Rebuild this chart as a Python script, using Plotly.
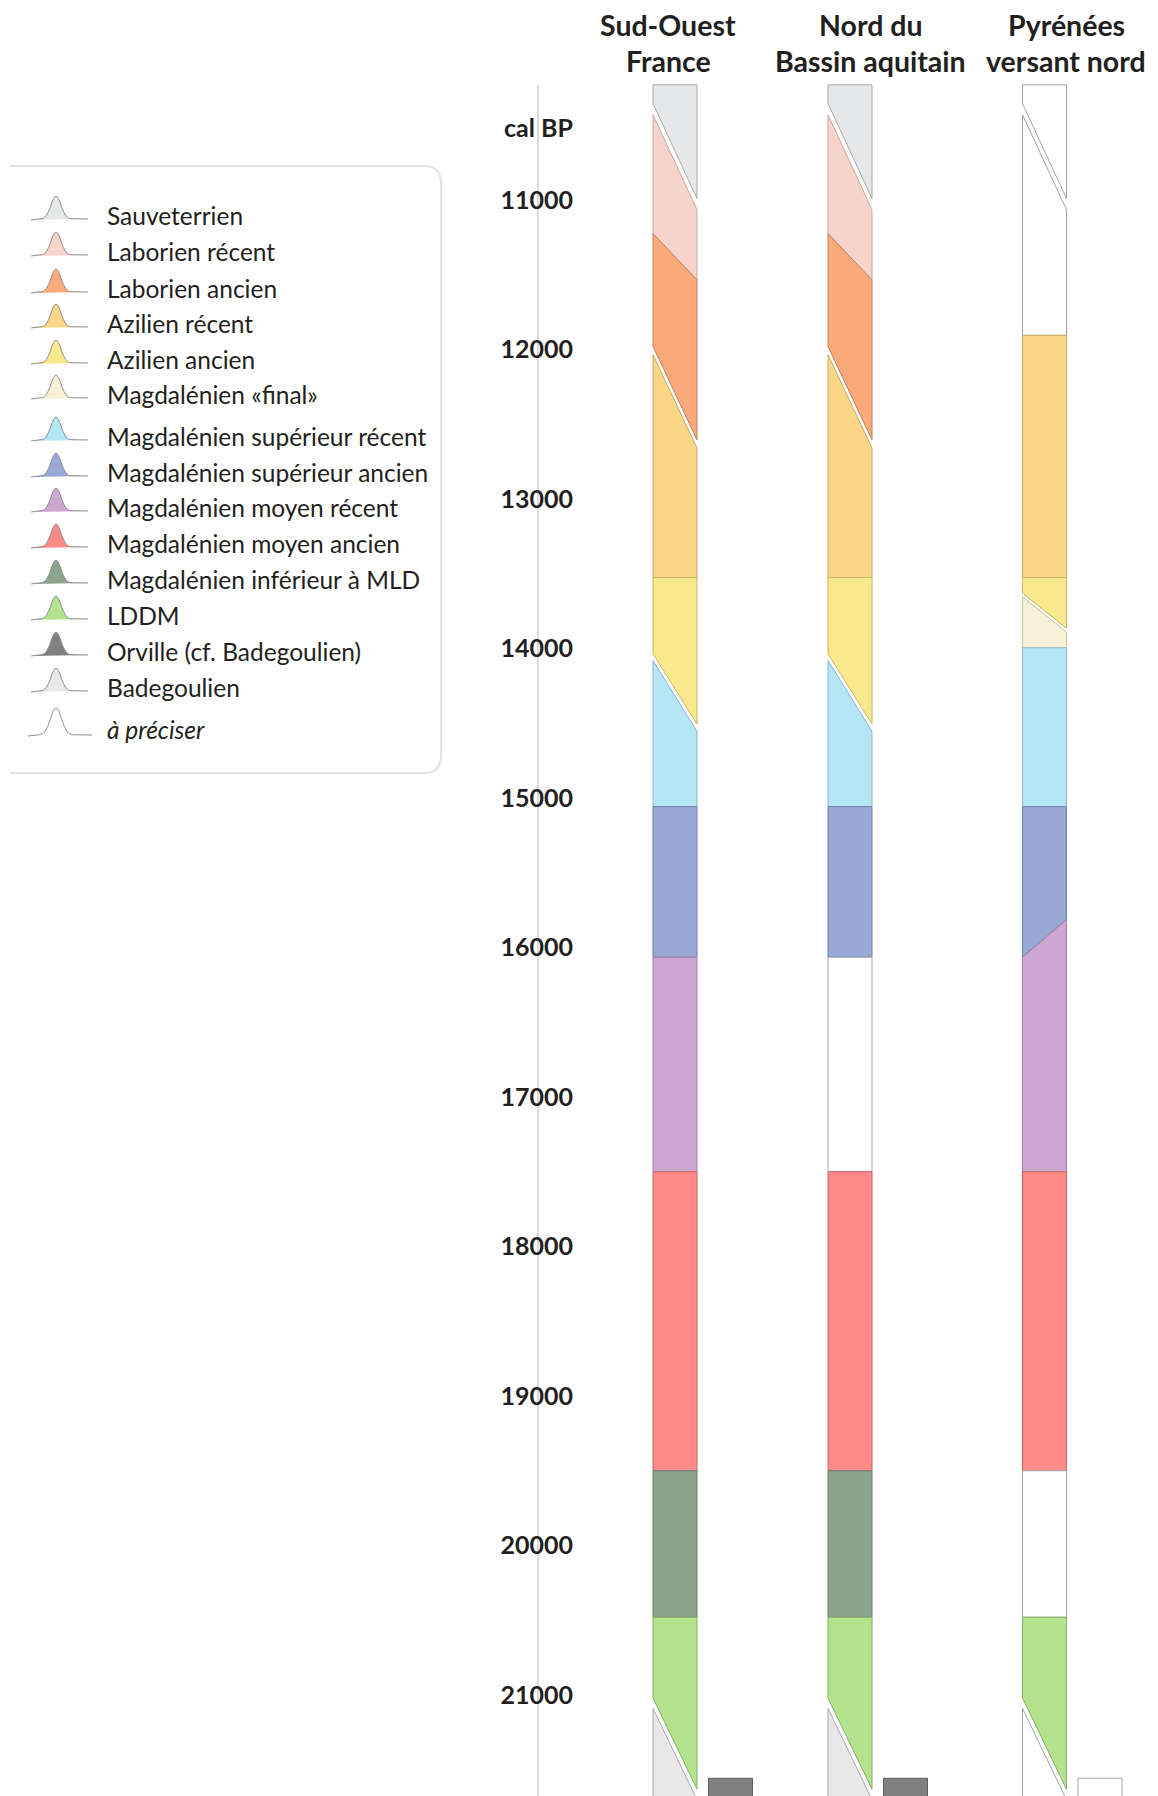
import math
import plotly.graph_objects as go

# regions (columns) and their headers, one list per header line
REGION_LINE1 = ["Sud-Ouest", "Nord du", "Pyrénées"]
REGION_LINE2 = ["France", "Bassin aquitain", "versant nord"]

# culture colours (fill, outline)
CULTURES = [
    "Sauveterrien", "Laborien récent", "Laborien ancien", "Azilien récent",
    "Azilien ancien", "Magdalénien «final»", "Magdalénien supérieur récent",
    "Magdalénien supérieur ancien", "Magdalénien moyen récent",
    "Magdalénien moyen ancien", "Magdalénien inférieur à MLD", "LDDM",
    "Orville (cf. Badegoulien)", "Badegoulien", "à préciser",
]
FILLS = [
    "#E6E7E8", "#F6D3CB", "#F9A97A", "#FCD687", "#F9E98D", "#F8F1D7",
    "#B5E6F6", "#99A8D5", "#CDA6D1", "#FF8A88", "#8CA48E", "#B3E38D",
    "#808080", "#E8E8E8", "#FFFFFF",
]
LINES = [
    "#A9A9A9", "#C9A8A0", "#C0805C", "#C9AA66", "#C6B866", "#C9C2A4",
    "#8FB6C4", "#6F7FAF", "#A07FA6", "#C86464", "#6A7D6C", "#86AE68",
    "#5E5E5E", "#A9A9A9", "#A3A3A3",
]

# Sud-Ouest France: segments, years cal BP at left/right edge of column
SO_CULTURE = ["Sauveterrien", "Laborien récent", "Laborien ancien", "Azilien récent",
              "Azilien ancien", "Magdalénien supérieur récent", "Magdalénien supérieur ancien",
              "Magdalénien moyen récent", "Magdalénien moyen ancien",
              "Magdalénien inférieur à MLD", "LDDM", "Badegoulien"]
SO_TOP_L = [10230, 10430, 11225, 12035, 13525, 14080, 15058, 16065, 17500, 19500, 20480, 21090]
SO_TOP_R = [10230, 11065, 11535, 12660, 13525, 14555, 15058, 16065, 17500, 19500, 20480, 21700]
SO_BOT_L = [10355, 11225, 11980, 13525, 14035, 15058, 16065, 17500, 19500, 20480, 21020, 21900]
SO_BOT_R = [10990, 11535, 12605, 13525, 14505, 15058, 16065, 17500, 19500, 20480, 21630, 21900]

# Nord du Bassin aquitain
NB_CULTURE = ["Sauveterrien", "Laborien récent", "Laborien ancien", "Azilien récent",
              "Azilien ancien", "Magdalénien supérieur récent", "Magdalénien supérieur ancien",
              "à préciser", "Magdalénien moyen ancien",
              "Magdalénien inférieur à MLD", "LDDM", "Badegoulien"]
NB_TOP_L = [10230, 10430, 11225, 12035, 13525, 14080, 15058, 16065, 17500, 19500, 20480, 21090]
NB_TOP_R = [10230, 11065, 11535, 12660, 13525, 14555, 15058, 16065, 17500, 19500, 20480, 21700]
NB_BOT_L = [10355, 11225, 11980, 13525, 14035, 15058, 16065, 17500, 19500, 20480, 21020, 21900]
NB_BOT_R = [10990, 11535, 12605, 13525, 14505, 15058, 16065, 17500, 19500, 20480, 21630, 21900]

# Pyrénées versant nord
PY_CULTURE = ["à préciser", "à préciser", "Azilien récent", "Azilien ancien",
              "Magdalénien «final»", "Magdalénien supérieur récent",
              "Magdalénien supérieur ancien", "Magdalénien moyen récent",
              "Magdalénien moyen ancien", "à préciser", "LDDM", "à préciser"]
PY_TOP_L = [10230, 10430, 11905, 13525, 13655, 13995, 15058, 16065, 17500, 19500, 20480, 21090]
PY_TOP_R = [10230, 11065, 11905, 13525, 13890, 13995, 15058, 15813, 17500, 19500, 20480, 21700]
PY_BOT_L = [10355, 11905, 13525, 13630, 13995, 15058, 16065, 17500, 19500, 20480, 21020, 21900]
PY_BOT_R = [10990, 11905, 13525, 13865, 13995, 15058, 15813, 17500, 19500, 20480, 21630, 21900]

# small boxes under each column
BOX_CULTURE = ["Orville (cf. Badegoulien)", "Orville (cf. Badegoulien)", "à préciser"]
BOX_TOP = [21557, 21557, 21557]
BOX_BOT = [21900, 21900, 21900]

# y axis ticks
TICK_VALS = [10520, 11000, 12000, 13000, 14000, 15000, 16000, 17000, 18000, 19000, 20000, 21000]
TICK_TEXT = ["cal BP", "11000", "12000", "13000", "14000", "15000", "16000",
             "17000", "18000", "19000", "20000", "21000"]

# layout (page pixel units); the page adds an 8px body margin
W, H = 1158, 1796
OFF = 8
PX_PER_YEAR = 0.1495
COL_X = [675, 850, 1044.5]
HEAD_X = [668, 870, 1066]
COL_W = 44
BOX_DX = 55.5
AXIS_X = 538
FONT = "Lato"
INK = "#231F20"

fill_of = dict(zip(CULTURES, FILLS))
line_of = dict(zip(CULTURES, LINES))

fig = go.Figure()

columns = [
    (SO_CULTURE, SO_TOP_L, SO_TOP_R, SO_BOT_L, SO_BOT_R),
    (NB_CULTURE, NB_TOP_L, NB_TOP_R, NB_BOT_L, NB_BOT_R),
    (PY_CULTURE, PY_TOP_L, PY_TOP_R, PY_BOT_L, PY_BOT_R),
]

for cx, (cult, tl, tr, bl, br) in zip(COL_X, columns):
    xl, xr = cx - COL_W / 2, cx + COL_W / 2
    for c, a, b, d, e in zip(cult, tl, tr, bl, br):
        fig.add_trace(go.Scatter(
            x=[xl, xr, xr, xl, xl], y=[a, b, e, d, a],
            mode="lines", fill="toself", fillcolor=fill_of[c],
            line=dict(color=line_of[c], width=1),
            name=c, hoverinfo="name", showlegend=False,
        ))

for cx, c, t, b in zip(COL_X, BOX_CULTURE, BOX_TOP, BOX_BOT):
    xl, xr = cx + BOX_DX - COL_W / 2, cx + BOX_DX + COL_W / 2
    fig.add_trace(go.Scatter(
        x=[xl, xr, xr, xl, xl], y=[t, t, b, b, t],
        mode="lines", fill="toself", fillcolor=fill_of[c],
        line=dict(color=line_of[c], width=1),
        name=c, hoverinfo="name", showlegend=False,
    ))

# time axis line
fig.add_shape(type="line", xref="x", yref="y", x0=AXIS_X, x1=AXIS_X,
              y0=10230, y1=21900, line=dict(color="#DCDCDC", width=2), layer="below")

# invisible trace to set up the pixel overlay axis used by the legend
fig.add_trace(go.Scatter(x=[0], y=[0], xaxis="x", yaxis="y2", mode="markers",
                         marker=dict(opacity=0), hoverinfo="skip", showlegend=False))

# legend box
fig.add_shape(type="path", xref="x", yref="y2",
              path="M 10 166 L 424 166 Q 441 166 441 183 L 441 756 Q 441 773 424 773 L 10 773",
              line=dict(color="#E2E2E2", width=2))

LEG_Y = [215, 251, 288, 323, 359, 394, 436, 472, 507, 543, 579, 615, 651, 687, 729]


def bell(x0, base, h, sig, left, right):
    pts = [(x0 - left, base + 1)]
    n = 24
    for i in range(n + 1):
        dx = -3 * sig + 6 * sig * i / n
        pts.append((x0 + dx, base - h * math.exp(-0.5 * (dx / sig) ** 2)))
    pts.append((x0 + right, base))
    return "M " + " L ".join(f"{px:.1f} {py:.1f}" for px, py in pts)


for lab, yy in zip(CULTURES, LEG_Y):
    big = lab == "à préciser"
    fig.add_shape(type="path", xref="x", yref="y2",
                  path=bell(56, yy + (6 if big else 4), 27 if big else 23, 5.5 if big else 5,
                            28 if big else 25, 36 if big else 32),
                  fillcolor=fill_of[lab], line=dict(color="#8E8E8E", width=1))
    fig.add_annotation(x=105, y=yy, xref="x", yref="y2", xanchor="left", yanchor="middle",
                       text=f"<i>{lab}</i>" if big else lab, showarrow=False,
                       font=dict(family=FONT, size=24.5, color=INK))

# region headers
for cx, l1, l2 in zip(HEAD_X, REGION_LINE1, REGION_LINE2):
    for txt, yy in ((l1, 25), (l2, 61)):
        fig.add_annotation(x=cx, y=yy, xref="x", yref="y2", xanchor="center", yanchor="middle",
                           text=txt, showarrow=False,
                           font=dict(family=FONT, size=28.5, color=INK, weight="bold"))

y_top = 11000 - (200 - OFF) / PX_PER_YEAR
y_bot = y_top + H / PX_PER_YEAR

fig.update_layout(
    width=W, height=H,
    margin=dict(l=0, r=0, t=0, b=0),
    paper_bgcolor="white", plot_bgcolor="white",
    showlegend=False,
    xaxis=dict(range=[OFF, W + OFF], domain=[0, 1], visible=False, fixedrange=True),
    yaxis=dict(range=[y_bot, y_top], domain=[0, 1], anchor="free", position=(573 - OFF) / W,
               tickvals=TICK_VALS, ticktext=TICK_TEXT, ticks="", showline=False,
               showgrid=False, zeroline=False,
               tickfont=dict(family=FONT, size=25, color=INK, weight="bold")),
    yaxis2=dict(range=[H + OFF, OFF], overlaying="y", visible=False),
)

fig.write_html("out.html")
